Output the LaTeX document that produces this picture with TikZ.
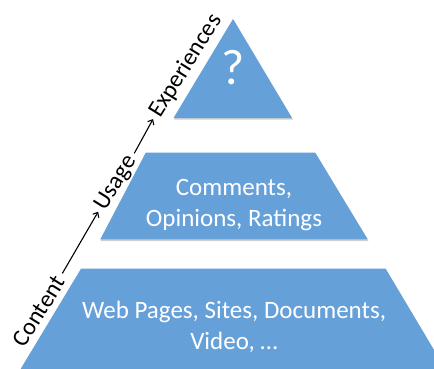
\documentclass[tikz,border=0pt]{standalone}
\usepackage{fontspec}
\setmainfont{Carlito}
\usetikzlibrary{arrows.meta}
\definecolor{pyblue}{RGB}{101,160,217}
\definecolor{pyshadow}{RGB}{150,150,150}
\begin{document}
\begin{tikzpicture}[x=1pt,y=-1pt,
  piece/.style={fill=pyblue},
  shade/.style={fill=pyshadow,opacity=0.45},
  intext/.style={text=white,align=center,font=\fontsize{25}{30.5}\selectfont,inner sep=0pt},
  sidetext/.style={rotate=58,font=\fontsize{24}{28}\selectfont,inner sep=1pt},
  flow/.style={-{Straight Barb[length=4pt,width=7pt]},line width=1.1pt,black}]
\useasboundingbox (0,0) rectangle (434,368);
\clip (0,0) rectangle (434,368);
% shadows
\fill[shade] (234,20.5) -- (293,119.5) -- (174,119.5) -- cycle;
\fill[shade] (146,154) -- (315.5,154) -- (368.5,241) -- (100.5,241) -- cycle;
% pieces
\fill[piece] (233,19) -- (292,118) -- (173.5,118) -- cycle;
\fill[piece] (145.7,152.7) -- (315.3,152.7) -- (367.7,239.3) -- (100.3,239.3) -- cycle;
\fill[piece] (81,268.7) -- (385.7,268.7) -- (446,370) -- (20,370) -- cycle;
% texts
\node[intext,font=\fontsize{50}{56}\selectfont] (q) at (233,68) {?};
\node[intext] (mid) at (234,205) {Comments,\\Opinions, Ratings};
\node[intext] (bot) at (234,327) {Web Pages, Sites, Documents,\\Video, …};
% side labels
\node[sidetext] (content) at (39,311) {Content};
\node[sidetext] (usage) at (116,183) {Usage};
\node[sidetext] (exper) at (186,66) {Experiences};
\draw[flow,shorten <=4pt,shorten >=3pt] (content.east) -- (usage.west);
\draw[flow,shorten <=4pt,shorten >=3pt] (usage.east) -- (exper.west);
\end{tikzpicture}
\end{document}
